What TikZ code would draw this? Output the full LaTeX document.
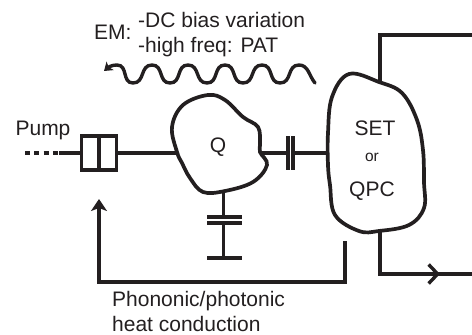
\documentclass[tikz,border=0pt]{standalone}
\usepackage{fontspec}
\setmainfont{Liberation Sans}
\usetikzlibrary{calc, positioning}
\usetikzlibrary{arrows.meta}
\usetikzlibrary{decorations.markings}
\definecolor{ink}{HTML}{231F20}
\tikzset{
    wire/.style={ink, line width=3.4pt},
    blob/.style={ink, line width=3.7pt, fill=white},
    lbl/.style={text=ink, font=\fontsize{21}{24}\selectfont, inner sep=0pt},
    smalllbl/.style={text=ink, font=\fontsize{15.5}{18}\selectfont, inner sep=0pt},
    plate/.style={ink, line width=3.6pt},
    midarrow/.style={postaction={decorate, decoration={markings,
        mark=at position 0.763 with {\arrow[line width=3.4pt]{Straight Barb[length=9pt, width=19pt]}}}}},
}
\begin{document}
\begin{tikzpicture}[x=1pt, y=-1pt, >=Stealth]
    \useasboundingbox (0,0) rectangle (472,335);

    \coordinate (Qin) at (177,153);
    \coordinate (Qout) at (260,153);
    \coordinate (Qbot) at (223.5,191);
    \coordinate (Sleft) at (327.5,153);
    \coordinate (Stop) at (380,81);
    \coordinate (Sbot) at (380,231);
    \coordinate (Cl) at (288,153);
    \coordinate (Cr) at (293,153);
    \coordinate (Gt) at (223.5,217);
    \coordinate (Gb) at (223.5,223);
    \coordinate (Gnd) at (223.5,258);
    \coordinate (PumpEnd) at (25,153);
    \coordinate (PumpMid) at (59,153);

    % leads behind the blobs
    \draw[wire] (Stop) |- (472,35);
    \draw[wire, midarrow] (Sbot) |- (472,274);

    \draw[wire] (Qout) -- (Cl);
    \draw[wire] (Cr) -- (Sleft);
    \draw[wire] (Qbot) -- (Gt);
    \draw[wire] (Gb) -- (Gnd);

    \draw[blob] plot[smooth cycle, tension=0.62] coordinates {
        (177,152) (172,127) (183,105) (208,95) (225,100) (243,117) (258,127)
        (260,143) (260,152) (267,165) (253,182) (225,191) (203,192) (190,178) (182,163)};
    \draw[blob] plot[smooth cycle, tension=0.62] coordinates {
        (328,133) (332,97) (349,74) (379,82) (402,93) (417,120) (423,150)
        (424,182) (424,208) (409,225) (379,231) (359,231) (335,215) (330,185) (328,165)};

    \draw[plate] (288,136) -- (288,170);
    \draw[plate] (293,136) -- (293,170);
    \draw[plate] (207,217) -- (242,217);
    \draw[plate] (207,223) -- (242,223);
    \draw[plate] (207,258) -- (242,258);

    \node[draw=ink, line width=3.6pt, minimum width=35pt, minimum height=34pt, inner sep=0pt] (Box) at (99,153) {};
    \draw[plate] (Box.north) -- (Box.south);
    \draw[wire, dash pattern=on 5pt off 4.3pt] (PumpEnd) -- (PumpMid);
    \draw[wire] (PumpMid) -- (Box.west);
    \draw[wire] (Box.east) -- (Qin);

    \coordinate (FbStart) at (345,241);
    \coordinate (FbTip) at (99,199);
    \draw[wire, -{Stealth[length=12pt, width=16pt, inset=3pt]}] (FbStart) |- (99,282) -- (FbTip);

    \coordinate (WaveTip) at (104,71);
    \draw[wire, line cap=round, {Stealth[length=8pt, width=11pt, inset=2pt]}-]
        (WaveTip) to[out=40, in=180] (117,65)
        \foreach \xt/\xp in {133/152, 170/188, 207/225, 243/262, 280/299} {
            to[out=0, in=180, looseness=1.2] (\xt,83)
            to[out=0, in=180, looseness=1.2] (\xp,65)
        }
        to[out=0, in=130] (315,83);

    \node[lbl, anchor=base] (Pump) at (43,135) {Pump};
    \node[lbl, anchor=base west] (EM) at (94,39) {EM:};
    \node[lbl, anchor=base west] (Bias) at (138,27) {-DC bias variation};
    \node[lbl, anchor=base west] (Freq) at (138,52) {-high freq: PAT};
    \node[lbl, anchor=base] (Q) at (218,152) {Q};
    \node[lbl, anchor=base] (SET) at (375,135) {SET};
    \node[smalllbl, anchor=base] (Or) at (372,161) {or};
    \node[lbl, anchor=base] (QPC) at (372,196) {QPC};
    \node[lbl, anchor=base west] (Heat) at (112,306) {Phononic/photonic};
    \node[lbl, anchor=base west] (Cond) at (112,331) {heat conduction};
\end{tikzpicture}
\end{document}
